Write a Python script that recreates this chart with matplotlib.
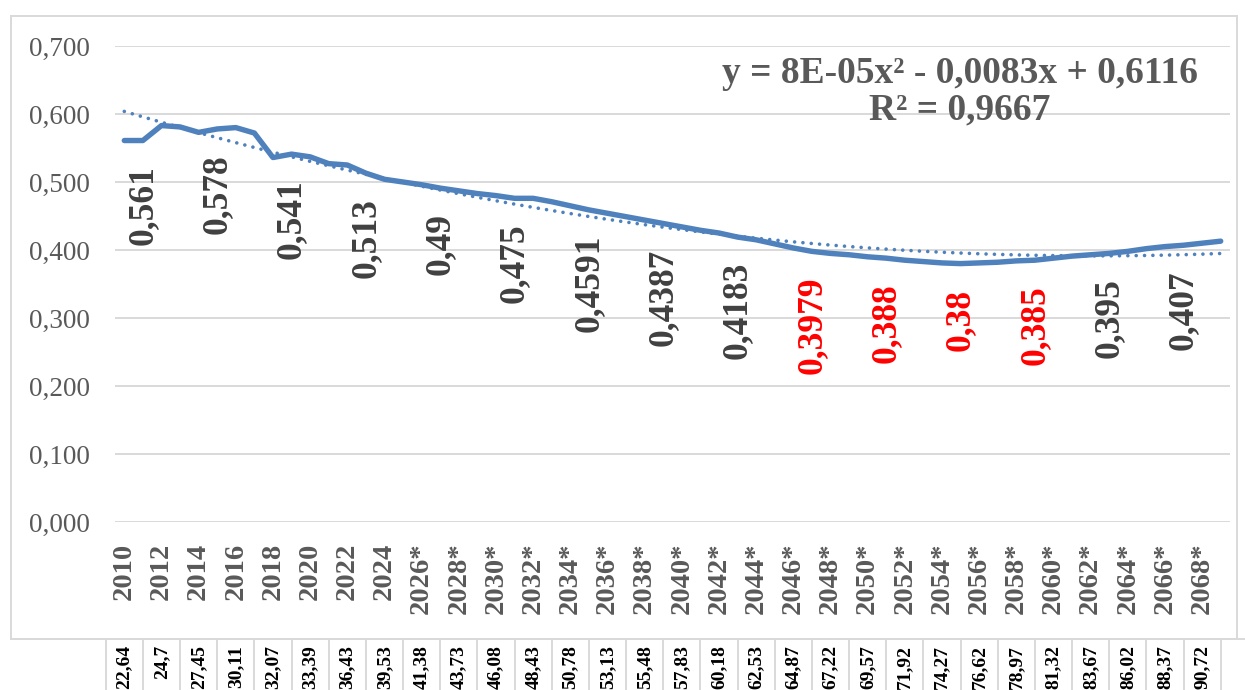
import numpy as np
import matplotlib
matplotlib.use("Agg")
import matplotlib.pyplot as plt
from matplotlib.lines import Line2D
from matplotlib.patches import Rectangle
from matplotlib.transforms import blended_transform_factory

plt.rcParams['font.family'] = ['Liberation Serif', 'DejaVu Serif']

# ---------------- data ----------------
years = list(range(2010, 2070))
values = [0.561, 0.561, 0.583, 0.581, 0.573, 0.578, 0.580, 0.572, 0.536, 0.541,
          0.537, 0.527, 0.525, 0.513, 0.504, 0.500, 0.496, 0.491, 0.487, 0.483,
          0.480, 0.476, 0.476, 0.471, 0.465, 0.459, 0.454, 0.449, 0.444, 0.439,
          0.434, 0.429, 0.425, 0.419, 0.415, 0.409, 0.403, 0.398, 0.395, 0.393,
          0.390, 0.388, 0.385, 0.383, 0.381, 0.380, 0.381, 0.382, 0.384, 0.385,
          0.388, 0.391, 0.393, 0.395, 0.398, 0.402, 0.405, 0.407, 0.410, 0.413]
tick_years = [str(y) if y <= 2024 else f"{y}*" for y in range(2010, 2070, 2)]
table_values = ["22,64", "24,7", "27,45", "30,11", "32,07", "33,39", "36,43", "39,53",
                "41,38", "43,73", "46,08", "48,43", "50,78", "53,13", "55,48", "57,83",
                "60,18", "62,53", "64,87", "67,22", "69,57", "71,92", "74,27", "76,62",
                "78,97", "81,32", "83,67", "86,02", "88,37", "90,72"]
label_years = [2011, 2015, 2019, 2023, 2027, 2031, 2035, 2039, 2043, 2047, 2051, 2055, 2059, 2063, 2067]
label_texts = ["0,561", "0,578", "0,541", "0,513", "0,49", "0,475", "0,4591", "0,4387",
               "0,4183", "0,3979", "0,388", "0,38", "0,385", "0,395", "0,407"]
label_red = [False] * 9 + [True] * 4 + [False] * 2
eq_text = "y = 8E-05x² - 0,0083x + 0,6116\nR² = 0,9667"
y_ticks = [0.0, 0.1, 0.2, 0.3, 0.4, 0.5, 0.6, 0.7]

# ---------------- styles ----------------
W, H = 1245, 690
BLUE = "#4F81BD"
GRID = "#D9D9D9"
TXT = "#595959"
LBL = "#404040"

fig = plt.figure(figsize=(W / 100, H / 100), dpi=100)
fig.patch.set_facecolor("white")

# overlay in pixel coordinates (frame + table)
ov = fig.add_axes([0, 0, 1, 1], zorder=0)
ov.set_xlim(0, W)
ov.set_ylim(H, 0)
ov.axis("off")
ov.patch.set_alpha(0)

ax = fig.add_axes([115 / W, 1 - 522 / H, (1230 - 115) / W, (522 - 46) / H], zorder=1)
ax.patch.set_alpha(0)

x = np.arange(len(years))
y = np.array(values)
ax.plot(x, y, color=BLUE, lw=3.9, solid_capstyle="round", solid_joinstyle="round", zorder=3)

# polynomial trendline (Excel x = 1..n)
xx = x + 1
coef = np.polyfit(xx, y, 2)
trend = np.polyval(coef, xx)
ax.plot(x, trend, color=BLUE, lw=2.6, linestyle=(0, (0.01, 2.3)),
        dash_capstyle="round", zorder=2)

ax.set_xlim(-0.5, len(years) - 0.5)
ax.set_ylim(0, 0.7)
ax.set_yticks(y_ticks)
ax.set_yticklabels([f"{v:.3f}".replace(".", ",") for v in y_ticks])
ax.tick_params(axis="y", length=0, pad=18, labelsize=19.5, labelcolor=TXT)
ax.grid(axis="y", color=GRID, lw=1.4)
ax.set_axisbelow(True)
for s in ax.spines.values():
    s.set_visible(False)

tick_idx = [years.index(int(t.rstrip("*"))) for t in tick_years]
ax.set_xticks(tick_idx)
ax.set_xticklabels(tick_years, rotation=90, fontweight="bold")
ax.tick_params(axis="x", length=0, pad=15, labelsize=20.5, labelcolor=TXT)

# data labels
for yr, t, red in zip(label_years, label_texts, label_red):
    i = years.index(yr)
    ax.annotate(t, (i, values[i]), xytext=(0, -18), textcoords="offset points",
                rotation=90, ha="center", va="top", fontsize=25.5, fontweight="bold",
                color="#FF0000" if red else LBL, annotation_clip=False, zorder=4)

# trendline equation
ax.text(960, 56, eq_text, transform=ov.transData, ha="center", va="top",
        fontsize=27, fontweight="bold", color=TXT, linespacing=1.06, zorder=5)

# chart frame
ov.add_patch(Rectangle((11, 16), 1237 - 11, 639 - 16, fill=False, ec=GRID, lw=1.4))
ov.add_line(Line2D([11, W], [639, 639], color=GRID, lw=1.4))

# data table row below chart
bt = blended_transform_factory(ax.transData, ov.transData)
for k in range(len(table_values) + 1):
    xb = tick_idx[0] - 1 + 2 * k
    ov.add_line(Line2D([xb, xb], [639, H], color=GRID, lw=1.4, transform=bt))
for i, t in zip(tick_idx, table_values):
    ov.text(i, 645, t, transform=bt, rotation=90, ha="center", va="top",
            fontsize=14, fontweight="bold", color="black")

fig.savefig("out.png", dpi=100)
